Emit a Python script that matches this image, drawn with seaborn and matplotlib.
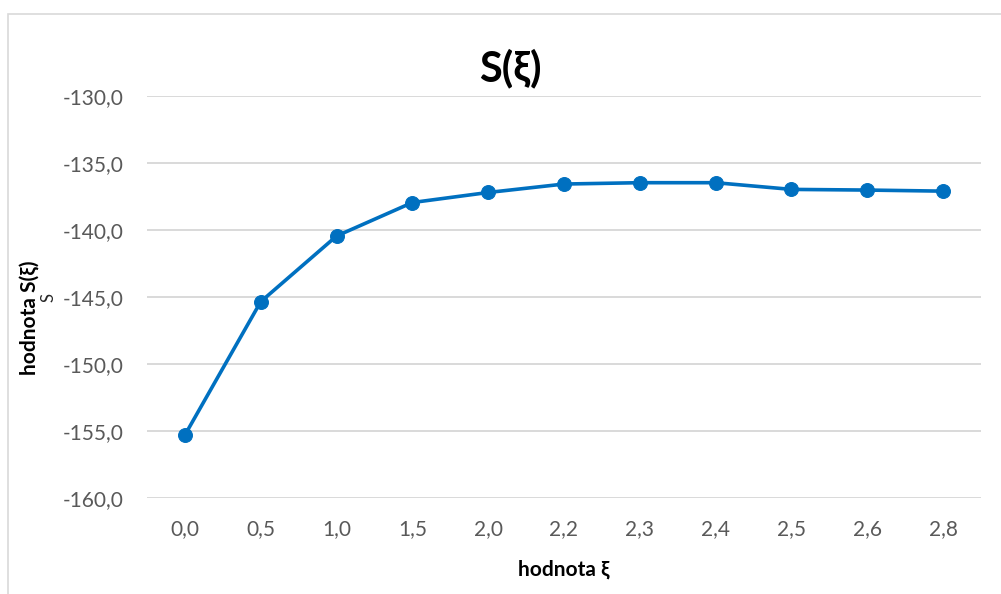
import matplotlib
matplotlib.use("Agg")
import matplotlib.pyplot as plt
import seaborn as sns
import pandas as pd
from matplotlib.patches import Rectangle

# values
xi_labels = ["0,0", "0,5", "1,0", "1,5", "2,0", "2,2", "2,3", "2,4", "2,5", "2,6", "2,8"]
s_values = [-155.3, -145.35, -140.45, -137.95, -137.2, -136.57, -136.47, -136.47, -136.97, -137.02, -137.1]
y_ticks = [-160, -155, -150, -145, -140, -135, -130]

sns.set_theme(style="white")
plt.rcParams["font.family"] = ["Lato", "DejaVu Sans"]

df = pd.DataFrame({"xi": xi_labels, "S": s_values})
df["pos"] = range(len(df))

fig = plt.figure(figsize=(10.01, 5.94), dpi=100)
ax = fig.add_axes([147 / 1001, 1 - 498 / 594, (981 - 147) / 1001, (498 - 96) / 594])

# light chart border like excel
fig.patches.append(Rectangle((8 / 1001, -0.1), 1.2, 1 - 14 / 594 + 0.1, transform=fig.transFigure,
                             fill=False, edgecolor="#d9d9d9", linewidth=1.2))

for yv in y_ticks:
    ax.axhline(yv, color="#d9d9d9", linewidth=1.4, zorder=0)

sns.lineplot(data=df, x="pos", y="S", ax=ax, color="#0070C0", linewidth=2.6,
             marker="o", markersize=10, markeredgecolor="#0070C0", zorder=3)

ax.set_xlim(-0.5, len(df) - 0.5)
ax.set_ylim(-160, -130)
ax.set_xticks(df["pos"])
ax.set_xticklabels(xi_labels)
ax.set_yticks(y_ticks)
ax.set_yticklabels([f"{v:.1f}".replace(".", ",") for v in y_ticks])
ax.tick_params(axis="both", length=0, labelsize=15, labelcolor="#595959")
ax.tick_params(axis="y", pad=17)
ax.tick_params(axis="x", pad=15)
for s in ax.spines.values():
    s.set_visible(False)
ax.grid(False)

ax.set_xlabel("hodnota ξ", fontsize=15, fontweight="bold", color="black", labelpad=15)
fig.text(31 / 1001, 1 - 318 / 594, "hodnota S(ξ)", fontsize=15, fontweight="bold",
         rotation=90, ha="center", va="center", color="black")
fig.text(510 / 1001, 1 - 68 / 594, "S(ξ)", fontsize=30, fontweight="bold",
         ha="center", va="center", color="black")

fig.savefig("out.png", dpi=100, facecolor="white")
